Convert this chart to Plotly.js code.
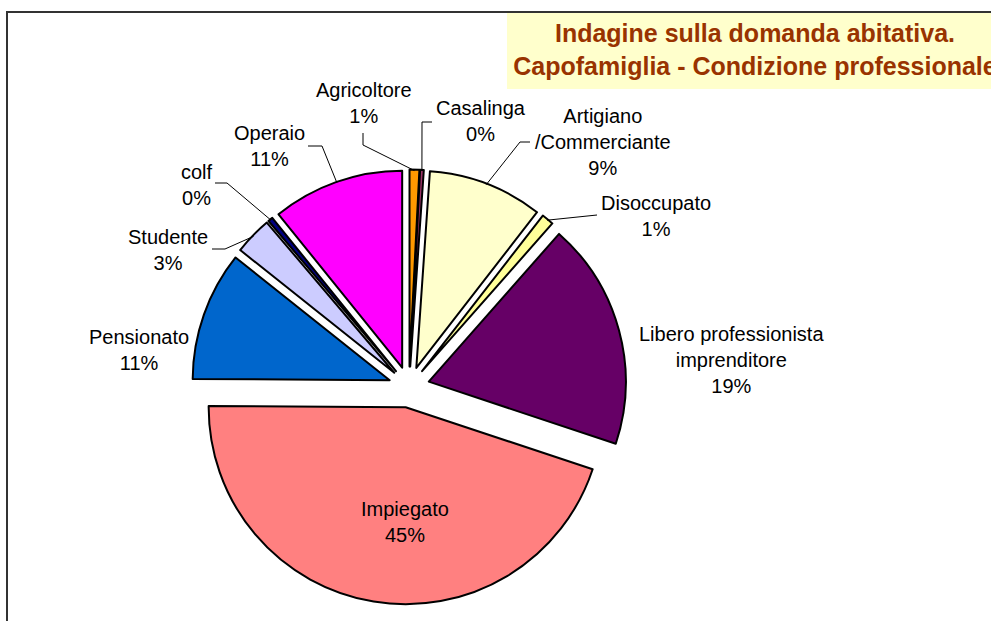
<!DOCTYPE html>
<html>
<head>
<meta charset="utf-8">
<script src="https://cdn.plot.ly/plotly-3.0.1.min.js"></script>
<style>
html,body{margin:0;padding:0;background:#fff;}
#chart{width:991px;height:621px;}
</style>
</head>
<body>
<div id="chart"></div>
<script>
// Categories in drawing order (clockwise from 12 o'clock)
const categories = [
  "Agricoltore",
  "Casalinga",
  "Artigiano<br>/Commerciante",
  "Disoccupato",
  "Libero professionista<br>imprenditore",
  "Impiegato",
  "Pensionato",
  "Studente",
  "colf",
  "Operaio"
];
// Share of households (%)
const shares = [0.8, 0.3, 9.4, 1.0, 18.6, 45.0, 10.6, 3.1, 0.4, 10.8];
const sliceColors = ["#FF9900", "#993366", "#FFFFCC", "#FFFF99", "#660066",
                     "#FF8080", "#0066CC", "#CCCCFF", "#000080", "#FF00FF"];
const titleLines = ["Indagine sulla domanda abitativa.",
                    "Capofamiglia - Condizione professionale"];

const W = 991, H = 621;
const FONT = "Liberation Sans, Arial, sans-serif";

// Pie geometry (pixels): the domain below gives this centre and radius
const PIE = {cx: 409, cy: 387, r: 197, pull: 0.104};

// Label placement (pixels, label centre) and leader-line elbows (null = no leader)
const labelPlacement = [
  {x: 364, y: 103.5, lead: [[363, 133], [363, 145]]},
  {x: 481, y: 121,   lead: [[432, 122], [422, 122]]},
  {x: 603, y: 142,   lead: [[530, 142], [520, 142]]},
  {x: 656, y: 216,   lead: [[597, 215]]},
  {x: 731, y: 360,   lead: null},
  {x: 405, y: 521.5, lead: null},
  {x: 139, y: 350,   lead: null},
  {x: 168, y: 250,   lead: [[212, 249], [225, 249]]},
  {x: 197, y: 184.5, lead: [[215, 183], [227, 183]]},
  {x: 269, y: 146.5, lead: [[308, 146], [322, 146]]}
];

const total = shares.reduce((a, b) => a + b, 0);
const px = x => x / W;
const py = y => 1 - y / H;

const annotations = [];
const shapes = [
  {type: "rect", xref: "paper", yref: "paper", layer: "below",
   x0: px(507), x1: 1.05, y0: py(89), y1: py(13),
   fillcolor: "#FFFFCC", line: {width: 0}},
  {type: "rect", xref: "paper", yref: "paper", layer: "above",
   x0: px(7), x1: 1.1, y0: -0.1, y1: py(12),
   fillcolor: "rgba(0,0,0,0)", line: {color: "#333333", width: 2}}
];

let cum = 0;
categories.forEach((cat, i) => {
  const frac = shares[i] / total;
  const mid = (cum + frac / 2) * 2 * Math.PI; // clockwise from 12 o'clock
  cum += frac;
  const p = labelPlacement[i];
  annotations.push({
    xref: "paper", yref: "paper", x: px(p.x), y: py(p.y),
    xanchor: "center", yanchor: "middle", showarrow: false, align: "center",
    text: cat + "<br>" + Math.round(frac * 100) + "%",
    font: {family: FONT, size: 20, color: "#000000"}
  });
  if (p.lead) {
    const rr = PIE.r * (1 + PIE.pull) - 1;
    const ex = PIE.cx + Math.sin(mid) * rr;
    const ey = PIE.cy - Math.cos(mid) * rr;
    const pts = p.lead.concat([[ex, ey]]);
    const path = pts.map((q, k) => (k ? "L" : "M") + px(q[0]) + "," + py(q[1])).join(" ");
    shapes.push({type: "path", xref: "paper", yref: "paper", layer: "above",
                 path: path, line: {color: "#000000", width: 1}});
  }
});

const trace = {
  type: "pie",
  labels: categories,
  values: shares,
  sort: false,
  direction: "clockwise",
  rotation: 0,
  pull: categories.map(() => PIE.pull),
  marker: {colors: sliceColors, line: {color: "#000000", width: 2}},
  textinfo: "none",
  automargin: false,
  hoverinfo: "label+percent",
  showlegend: false,
  domain: {x: [191.5 / W, 626.5 / W], y: [1 - 604.5 / H, 1 - 169.5 / H]}
};

const layout = {
  width: W,
  height: H,
  margin: {l: 0, r: 0, t: 0, b: 0},
  paper_bgcolor: "#FFFFFF",
  plot_bgcolor: "#FFFFFF",
  showlegend: false,
  title: {
    text: "<b>" + titleLines.join("<br>") + "</b>",
    font: {family: FONT, size: 25, color: "#993300"},
    x: 755 / W,
    xanchor: "center",
    xref: "container",
    y: 1 - 42 / H,
    yanchor: "top",
    yref: "container"
  },
  annotations: annotations,
  shapes: shapes
};

Plotly.newPlot("chart", [trace], layout, {displayModeBar: false, staticPlot: true});
</script>
</body>
</html>
